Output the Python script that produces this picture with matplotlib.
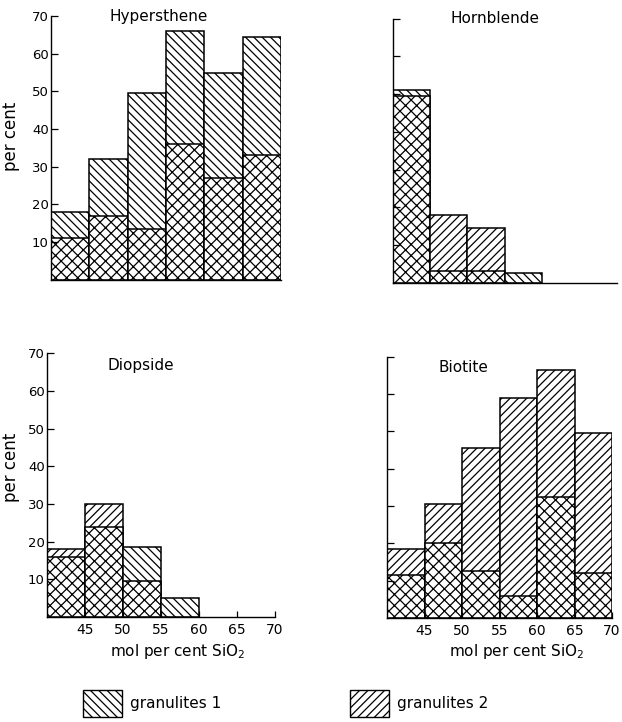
import matplotlib
matplotlib.use("Agg")
import matplotlib.pyplot as plt
from matplotlib.patches import Patch

plt.rcParams['font.family'] = ['DejaVu Sans']
plt.rcParams['hatch.linewidth'] = 0.9

# ---- data ----
bin_left = [40, 45, 50, 55, 60, 65]
xtick_vals = [45, 50, 55, 60, 65, 70]
ytick_vals = [10, 20, 30, 40, 50, 60, 70]

hyp_total = [18, 32, 49.5, 66, 55, 64.5]
hyp_cross = [11, 17, 13.5, 36, 27, 33]
hyp_group = [1, 1, 1, 1, 1, 1]

hbl_total = [51, 18, 14.5, 2.5, 0, 0]
hbl_cross = [49.5, 3, 3, 0, 0, 0]
hbl_group = [1, 2, 2, 1, 1, 1]

dio_total = [18, 30, 18.5, 5, 0, 0]
dio_cross = [16, 24, 9.5, 0, 0, 0]
dio_group = [2, 2, 1, 1, 1, 1]

bio_total = [18.5, 30.5, 45.5, 59, 66.5, 49.5]
bio_cross = [11.5, 20, 12.5, 6, 32.5, 12]
bio_group = [2, 2, 2, 2, 2, 2]

titles = ["Hypersthene", "Hornblende", "Diopside", "Biotite"]
legend_labels = ["granulites 1", "granulites 2"]

HATCH = {1: '\\\\\\\\', 2: '////'}
CROSS = 'xxx'
W, H = 622, 722

fig = plt.figure(figsize=(W / 100, H / 100), dpi=100)


def make_ax(x0, x1, ytop, ybot):
    return fig.add_axes([x0 / W, 1 - ybot / H, (x1 - x0) / W, (ybot - ytop) / H])


panels = [
    (make_ax(51, 281, 16, 279.7), hyp_total, hyp_cross, hyp_group, titles[0], (0.47, 1.0), True, False),
    (make_ax(392.7, 617, 18.8, 282.7), hbl_total, hbl_cross, hbl_group, titles[1], (0.456, 1.0), False, False),
    (make_ax(47, 275, 353.3, 617), dio_total, dio_cross, dio_group, titles[2], (0.41, 0.952), True, True),
    (make_ax(387, 612, 356.7, 618), bio_total, bio_cross, bio_group, titles[3], (0.34, 0.96), False, True),
]

for ax, tot, cross, grp, title, tpos, ylab, xlab in panels:
    for left, t, c, g in zip(bin_left, tot, cross, grp):
        if t > 0:
            ax.bar(left, t, width=5, align='edge', facecolor='white',
                   edgecolor='black', linewidth=1.1, hatch=HATCH[g])
        if c > 0:
            ax.bar(left, c, width=5, align='edge', facecolor='white',
                   edgecolor='black', linewidth=1.1, hatch=CROSS)
    ax.set_xlim(40, 70)
    ax.set_ylim(0, 70)
    for s in ['top', 'right']:
        ax.spines[s].set_visible(False)
    ax.spines['left'].set_linewidth(1.0)
    ax.spines['bottom'].set_linewidth(1.0)
    ax.set_yticks(ytick_vals)
    ax.tick_params(axis='y', direction='in', length=5, width=0.9, pad=1.5, labelsize=9.5)
    ax.set_xticks(xtick_vals)
    ax.tick_params(axis='x', direction='in', length=4, width=0.9, pad=4, labelsize=10)
    if not ylab:
        ax.set_yticklabels([])
    else:
        ax.set_ylabel("per cent", fontsize=12)
    if not xlab:
        ax.set_xticklabels([])
        ax.tick_params(axis='x', length=0)
    else:
        ax.text(0.575, -0.13, "mol per cent SiO$_2$", transform=ax.transAxes,
                ha='center', va='center', fontsize=11)
    ax.text(tpos[0], tpos[1], title, transform=ax.transAxes, ha='center',
            va='center', fontsize=11)
    ax.patch.set_visible(False)

panels[0][0].yaxis.set_label_coords(-0.135, 0.545)
panels[2][0].yaxis.set_label_coords(-0.12, 0.569)

for lab, g, x in zip(legend_labels, [1, 2], [83, 350]):
    fig.legend(handles=[Patch(facecolor='white', edgecolor='black', linewidth=1.0, hatch=HATCH[g])],
               labels=[lab], loc='lower left', bbox_to_anchor=(x / W, 1 - 717 / H),
               frameon=False, fontsize=11, handlelength=2.55, handleheight=2.3,
               handletextpad=0.5, borderpad=0, borderaxespad=0)

fig.savefig("out.png", dpi=100)
